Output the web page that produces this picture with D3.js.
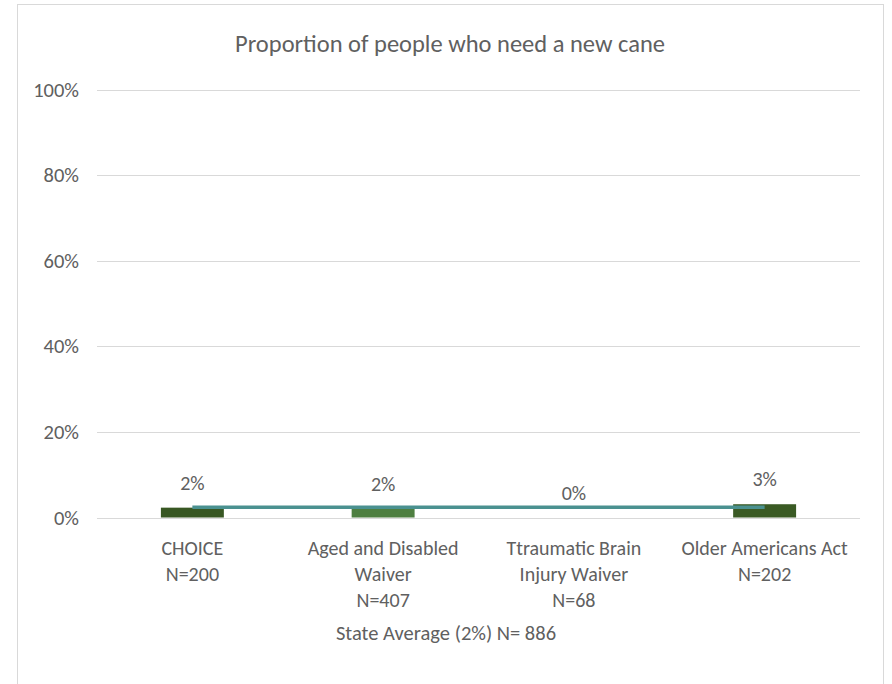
<!DOCTYPE html>
<html>
<head>
<meta charset="utf-8">
<script src="https://cdn.jsdelivr.net/npm/d3@7"></script>
<style>
  html, body { margin: 0; padding: 0; background: #fff; }
  text { font-family: Carlito, Lato, "Open Sans", sans-serif; fill: #606060; }
</style>
</head>
<body>
<svg id="chart" width="892" height="684"></svg>
<script>
const title = "Proportion of people who need a new cane";
const categories = ["CHOICE", "Aged and Disabled Waiver", "Ttraumatic Brain Injury Waiver", "Older Americans Act"];
const categoryLines = [
  ["CHOICE", "N=200"],
  ["Aged and Disabled", "Waiver", "N=407"],
  ["Ttraumatic Brain", "Injury Waiver", "N=68"],
  ["Older Americans Act", "N=202"]
];
const values = [2.3, 2.0, 0, 3.1];
const valueLabels = ["2%", "2%", "0%", "3%"];
const barColors = ["#385723", "#4e7f41", "#385723", "#3a5a24"];
const stateAverage = 2.4;
const xAxisTitle = "State Average (2%) N= 886";
const yTicks = [0, 20, 40, 60, 80, 100];

const svg = d3.select("#chart");

// outer border
svg.append("rect")
  .attr("x", 17.5).attr("y", 4.5)
  .attr("width", 866).attr("height", 700)
  .attr("fill", "#fff").attr("stroke", "#d9d9d9").attr("stroke-width", 1);

const plot = { left: 97, right: 860, top: 89.5, bottom: 517.5 };

const x = d3.scaleBand().domain(categories).range([plot.left, plot.right]).padding(0);
const y = d3.scaleLinear().domain([0, 100]).range([plot.bottom, plot.top]);

// gridlines
svg.append("g").selectAll("line").data(yTicks).join("line")
  .attr("x1", plot.left).attr("x2", plot.right)
  .attr("y1", d => Math.round(y(d)) + 0.5).attr("y2", d => Math.round(y(d)) + 0.5)
  .attr("stroke", "#d9d9d9").attr("stroke-width", 1);

// y axis labels
const yAxis = d3.axisLeft(y).tickValues(yTicks).tickFormat(d => d + "%").tickSize(0).tickPadding(0);
const yg = svg.append("g").attr("transform", `translate(${plot.left - 18},0)`).call(yAxis);
yg.select(".domain").remove();
yg.selectAll("text").style("font-size", "20.5px").attr("fill", "#606060")
  .style("font-family", "Carlito, Lato, sans-serif");

// bars
const barW = x.bandwidth() * 0.33;
svg.append("g").selectAll("rect").data(categories).join("rect")
  .attr("x", d => x(d) + x.bandwidth() / 2 - barW / 2)
  .attr("width", barW)
  .attr("y", (d, i) => y(values[i]))
  .attr("height", (d, i) => y(0) - y(values[i]))
  .attr("fill", (d, i) => barColors[i]);

// state average line
const line = d3.line().x(d => x(d) + x.bandwidth() / 2).y(() => y(stateAverage));
svg.append("path").datum(categories)
  .attr("d", line)
  .attr("fill", "none")
  .attr("stroke", "#4a9190")
  .attr("stroke-width", 3.5);

// value labels
svg.append("g").selectAll("text").data(categories).join("text")
  .attr("x", d => x(d) + x.bandwidth() / 2)
  .attr("y", (d, i) => y(values[i]) - 18)
  .attr("text-anchor", "middle")
  .style("font-size", "20px")
  .text((d, i) => valueLabels[i]);

// category labels
const cat = svg.append("g").selectAll("text").data(categories).join("text")
  .attr("text-anchor", "middle")
  .style("font-size", "20px")
  .attr("x", d => x(d) + x.bandwidth() / 2)
  .attr("y", 555);
cat.selectAll("tspan").data((d, i) => categoryLines[i]).join("tspan")
  .attr("x", function() { return d3.select(this.parentNode).attr("x"); })
  .attr("dy", (d, j) => j === 0 ? 0 : 26)
  .text(d => d);

// axis title
svg.append("text")
  .attr("x", 446).attr("y", 640)
  .attr("text-anchor", "middle")
  .style("font-size", "20.5px")
  .text(xAxisTitle);

// chart title
svg.append("text")
  .attr("x", 450).attr("y", 52)
  .attr("text-anchor", "middle")
  .style("font-size", "24.5px")
  .text(title);
</script>
</body>
</html>
